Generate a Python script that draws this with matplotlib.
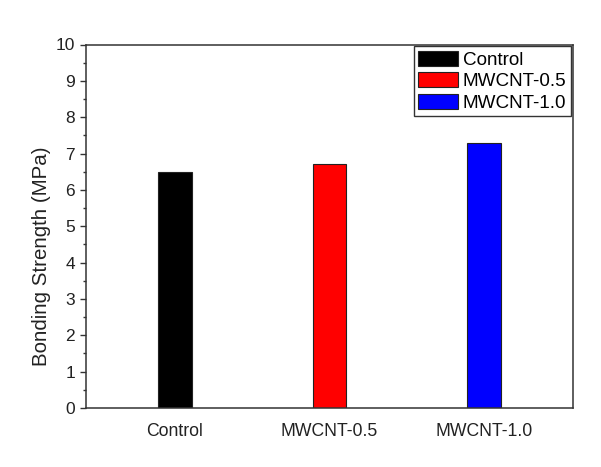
import matplotlib
matplotlib.use("Agg")
import matplotlib.pyplot as plt
from matplotlib.ticker import MultipleLocator

categories = ["Control", "MWCNT-0.5", "MWCNT-1.0"]
values = [6.5, 6.7, 7.3]
colors = ["#000000", "#ff0000", "#0000ff"]

plt.rcParams['font.family'] = ['Liberation Sans', 'DejaVu Sans']

fig = plt.figure(figsize=(6.01, 4.67), dpi=100)
ax = fig.add_axes([86/601, (467-408)/467, (573-86)/601, (408-44.5)/467])

x = [1, 2, 3]
for xi, v, c, lab in zip(x, values, colors, categories):
    ax.bar(xi, v, width=0.215, color=c, edgecolor='#222222', linewidth=0.8, label=lab)

ax.set_xlim(0.424, 3.576)
ax.set_ylim(0, 10)
ax.set_xticks(x)
ax.set_xticklabels(categories)
ax.yaxis.set_major_locator(MultipleLocator(1))
ax.yaxis.set_minor_locator(MultipleLocator(0.5))
ax.tick_params(axis='x', length=0, pad=11, labelsize=12.7, colors='#222222')
ax.tick_params(axis='y', which='major', length=4.5, width=1, direction='out', pad=3.5, labelsize=12.5, color='#333333', labelcolor='#222222')
ax.tick_params(axis='y', which='minor', length=2.5, width=1, direction='out', color='#333333')
for s in ax.spines.values():
    s.set_linewidth(1.1)
    s.set_color('#333333')

ax.set_ylabel("Bonding Strength (MPa)", fontsize=14.8, color='#222222')
ax.yaxis.set_label_coords(-0.0715, 0.418)

leg = ax.legend(loc='upper right', borderaxespad=0.1, fontsize=13.6, fancybox=False,
                framealpha=1, edgecolor='#333333', handlelength=2.1, handleheight=0.85,
                handletextpad=0.25, labelspacing=0.17, borderpad=0.25)
leg.get_frame().set_linewidth(1.0)

fig.savefig("out.png", dpi=100)
